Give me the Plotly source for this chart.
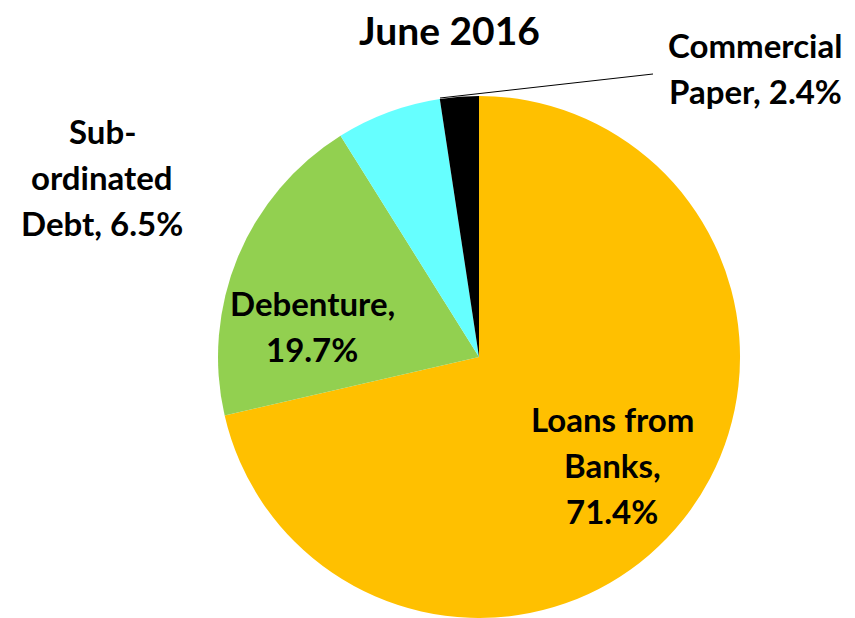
import plotly.graph_objects as go

# Funding composition, June 2016 (share of total, %)
categories = ["Loans from Banks", "Debenture", "Sub-ordinated Debt", "Commercial Paper"]
shares = [71.4, 19.7, 6.5, 2.4]
colors = ["#FFC000", "#92D050", "#66FFFF", "#000000"]

# Label lines per slice; the last line carries the value
label_lines = [
    ["Loans from", "Banks,", f"{shares[0]}%"],
    ["Debenture,", f"{shares[1]}%"],
    ["Sub-", "ordinated", f"Debt, {shares[2]}%"],
    ["Commercial", f"Paper, {shares[3]}%"],
]
# Label anchor (centre x, first-line y) in pixels, and line pitch
label_pos = [(612, 419), (312, 303), (102, 131), (755, 45)]
line_pitch = 46

W, H = 855, 618
FONT = "Lato"

fig = go.Figure(
    go.Pie(
        labels=categories,
        values=shares,
        marker=dict(colors=colors, line=dict(width=0)),
        sort=False,
        direction="clockwise",
        rotation=0,
        textinfo="none",
        hoverinfo="label+percent",
        domain=dict(x=[0.2538, 0.8667], y=[0.0, 0.8447]),
        showlegend=False,
    )
)

annotations = [
    dict(
        text="<b>June 2016</b>",
        x=449 / W, y=1 - 30 / H, xref="paper", yref="paper",
        xanchor="center", yanchor="middle", showarrow=False,
        font=dict(family=FONT, size=39, color="#000000"),
    )
]
for lines, (cx, y0) in zip(label_lines, label_pos):
    for i, line in enumerate(lines):
        annotations.append(
            dict(
                text=f"<b>{line}</b>",
                x=cx / W, y=1 - (y0 + i * line_pitch) / H,
                xref="paper", yref="paper",
                xanchor="center", yanchor="middle", showarrow=False,
                font=dict(family=FONT, size=33, color="#000000"),
            )
        )

# Leader line for the commercial paper slice
shapes = [
    dict(
        type="line", xref="paper", yref="paper",
        x0=440 / W, y0=1 - 98 / H, x1=653 / W, y1=1 - 74 / H,
        line=dict(color="#000000", width=1),
    )
]

fig.update_layout(
    width=W, height=H,
    margin=dict(l=0, r=0, t=0, b=0),
    paper_bgcolor="#FFFFFF",
    plot_bgcolor="#FFFFFF",
    annotations=annotations,
    shapes=shapes,
)

fig.write_html("out.html")
